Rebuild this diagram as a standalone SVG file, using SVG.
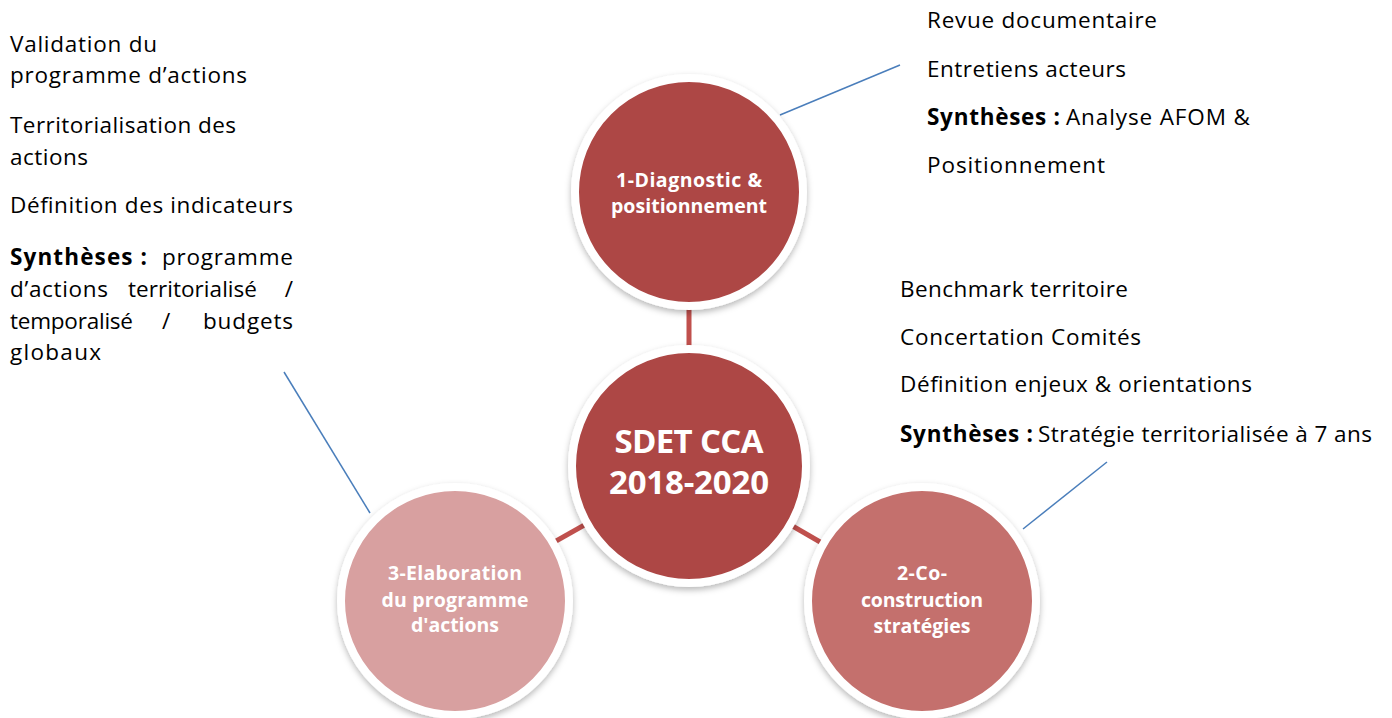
<svg xmlns="http://www.w3.org/2000/svg" width="1392" height="718" viewBox="0 0 1392 718">
  <style>
    .body { font-family: "Open Sans", "Noto Sans", sans-serif; font-size: 22.5px; fill: #000; }
    .b { font-weight: bold; }
    .lbl { font-family: "Open Sans", "Noto Sans", sans-serif; font-weight: bold; fill: #fff; text-anchor: middle; }
    .node { stroke: #fff; stroke-width: 8; filter: url(#shadow); }
    .link { stroke: #C0504D; stroke-width: 5; fill: none; }
    .callout { stroke: #4A7EBB; stroke-width: 1.5; fill: none; }
  </style>
  <defs>
    <filter id="shadow" x="-20%" y="-20%" width="140%" height="140%">
      <feDropShadow dx="0" dy="3" stdDeviation="3" flood-color="#000" flood-opacity="0.28"/>
    </filter>
  </defs>
  <rect width="1392" height="718" fill="#fff"/>

  <!-- connectors between the hub and the three phases, plus callout lines -->
  <g id="connectors">
    <line class="link" x1="689" y1="192" x2="689" y2="466"/>
    <line class="link" x1="689" y1="466" x2="922" y2="601"/>
    <line class="link" x1="689" y1="466" x2="455" y2="598"/>
    <line class="callout" x1="780" y1="115" x2="900" y2="65"/>
    <line class="callout" x1="1023" y1="529" x2="1107" y2="462"/>
    <line class="callout" x1="284" y1="372" x2="370" y2="513"/>
  </g>

  <g id="node-diagnostic">
    <circle class="node" cx="689" cy="192" r="114" fill="#AD4745"/>
    <text class="lbl" font-size="19.5"><tspan x="689" y="187" textLength="146">1-Diagnostic &amp;</tspan><tspan x="689" y="213" textLength="156">positionnement</tspan></text>
  </g>

  <g id="node-hub">
    <circle class="node" cx="689" cy="466" r="117" fill="#AD4745"/>
    <text class="lbl" font-size="33"><tspan x="689" y="453" textLength="149">SDET CCA</tspan><tspan x="689" y="494" textLength="160">2018-2020</tspan></text>
  </g>

  <g id="node-coconstruction">
    <circle class="node" cx="922" cy="601" r="114" fill="#C4706D"/>
    <text class="lbl" font-size="19.5"><tspan x="922" y="580" textLength="50">2-Co-</tspan><tspan x="922" y="607" textLength="122">construction</tspan><tspan x="922" y="633" textLength="97">stratégies</tspan></text>
  </g>

  <g id="node-elaboration">
    <circle class="node" cx="455" cy="601" r="114" fill="#D8A0A0"/>
    <text class="lbl" font-size="19.5"><tspan x="455" y="580" textLength="134">3-Elaboration</tspan><tspan x="455" y="607" textLength="147">du programme</tspan><tspan x="455" y="632" textLength="88">d'actions</tspan></text>
  </g>

  <!-- notes for phase 1 -->
  <g id="notes-diagnostic" class="body">
    <text x="927" y="28" textLength="230">Revue documentaire</text>
    <text x="927" y="77" textLength="199">Entretiens acteurs</text>
    <text x="927" y="125"><tspan class="b" textLength="133">Synthèses :</tspan></text>
    <text x="1066" y="125" textLength="184">Analyse AFOM &amp;</text>
    <text x="927" y="173" textLength="178">Positionnement</text>
  </g>

  <!-- notes for phase 2 -->
  <g id="notes-coconstruction" class="body">
    <text x="900" y="297" textLength="228">Benchmark territoire</text>
    <text x="900" y="345" textLength="241">Concertation Comités</text>
    <text x="900" y="392" textLength="352">Définition enjeux &amp; orientations</text>
    <text x="900" y="442"><tspan class="b" textLength="133">Synthèses :</tspan></text>
    <text x="1038" y="442" textLength="334">Stratégie territorialisée à 7 ans</text>
  </g>

  <!-- notes for phase 3 (justified paragraph) -->
  <g id="notes-elaboration" class="body">
    <text x="10" y="52" textLength="147">Validation du</text>
    <text x="10" y="83" textLength="237">programme d’actions</text>
    <text x="10" y="133" textLength="226">Territorialisation des</text>
    <text x="10" y="165" textLength="78">actions</text>
    <text x="10" y="213" textLength="283">Définition des indicateurs</text>
    <text x="10" y="265"><tspan class="b" textLength="137">Synthèses :</tspan></text>
    <text x="293" y="265" text-anchor="end" textLength="131">programme</text>
    <text x="10" y="297" textLength="98">d’actions</text>
    <text x="128" y="297" textLength="129">territorialisé</text>
    <text x="293" y="297" text-anchor="end">/</text>
    <text x="10" y="329" textLength="123">temporalisé</text>
    <text x="162" y="329">/</text>
    <text x="293" y="329" text-anchor="end" textLength="90">budgets</text>
    <text x="10" y="360" textLength="91">globaux</text>
  </g>
</svg>
